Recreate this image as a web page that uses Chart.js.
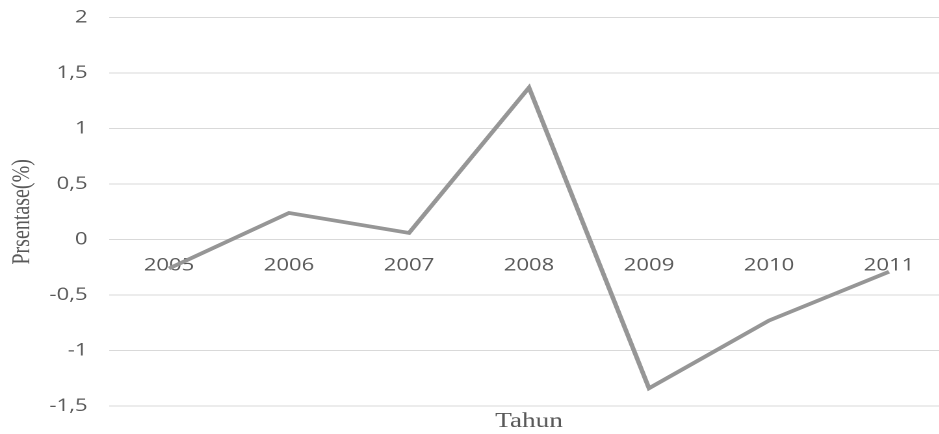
<!DOCTYPE html>
<html>
<head>
<meta charset="utf-8">
<script src="https://cdn.jsdelivr.net/npm/chart.js@4/dist/chart.umd.min.js"></script>
<style>
  html, body { margin: 0; padding: 0; background: #fff; overflow: hidden; }
  #frame { width: 939px; height: 434px; overflow: hidden; position: relative; }
  /* the figure is drawn slightly widened, like the exported spreadsheet chart;
     the canvas is a little taller and lifted so the top margin stays tight */
  #wide { width: 730px; height: 443px; transform: translateY(-9px) scaleX(1.3); transform-origin: 0 0; }
</style>
</head>
<body>
<div id="frame">
  <div id="wide"><canvas id="chart" width="730" height="443"></canvas></div>
</div>
<script>
// Pertumbuhan per tahun (%)
const years = ['2005', '2006', '2007', '2008', '2009', '2010', '2011'];
const persentase = [-0.26, 0.24, 0.06, 1.37, -1.34, -0.73, -0.29];
const yTicks = [-1.5, -1, -0.5, 0, 0.5, 1, 1.5, 2];

const textGray = '#595959';
const fmt = v => String(v).replace('.', ',');

new Chart(document.getElementById('chart'), {
  type: 'line',
  data: {
    labels: years,
    datasets: [{
      data: persentase,
      borderColor: '#969696',
      borderWidth: 3.6,
      pointRadius: 0,
      tension: 0,
      fill: false
    }]
  },
  options: {
    responsive: false,
    animation: false,
    devicePixelRatio: 2,
    layout: { padding: { top: 7, left: 0, right: 0, bottom: 0 } },
    plugins: { legend: { display: false }, tooltip: { enabled: false } },
    scales: {
      x: {
        type: 'category',
        offset: true,
        position: { y: 0 },
        grid: { display: false, drawTicks: false },
        border: { display: false },
        ticks: {
          color: textGray,
          font: { family: 'Open Sans', size: 17 },
          padding: 16,
          maxRotation: 0,
          autoSkip: false
        }
      },
      xTitle: {
        type: 'category',
        position: 'bottom',
        offset: true,
        grid: { display: false, drawTicks: false },
        border: { display: false },
        ticks: { display: false },
        title: {
          display: true,
          text: 'Tahun',
          color: textGray,
          font: { family: 'Liberation Serif', size: 21 },
          padding: { top: 0, bottom: 0 }
        },
        afterFit: s => { s.height = 28; }
      },
      y: {
        min: yTicks[0],
        max: yTicks[yTicks.length - 1],
        afterBuildTicks: s => { s.ticks = yTicks.map(v => ({ value: v })); },
        grid: { color: '#d9d9d9', lineWidth: 1, drawTicks: false },
        border: { display: false },
        ticks: {
          color: textGray,
          font: { family: 'Open Sans', size: 17 },
          padding: 16.5,
          callback: v => fmt(v)
        },
        title: {
          display: true,
          text: 'Prsentase(%)',
          color: textGray,
          font: { family: 'Liberation Serif', size: 20 },
          padding: { top: 5, bottom: 5 }
        },
        afterFit: s => { s.width = 83.85; }
      }
    }
  }
});
</script>
</body>
</html>
